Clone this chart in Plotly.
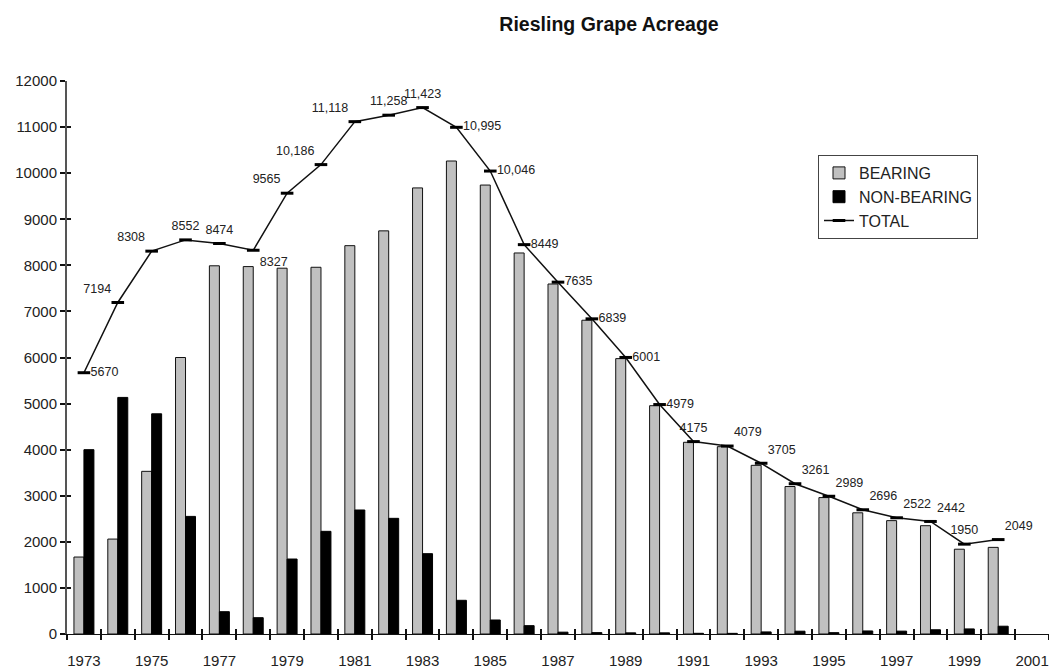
import plotly.graph_objects as go

years = list(range(1973, 2001))
bearing = [1670, 2060, 3530, 6000, 7990, 7973, 7938, 7958, 8427, 8748, 9680, 10264, 9742, 8268,
           7595, 6809, 5976, 4954, 4160, 4065, 3660, 3200, 2960, 2630, 2460, 2350, 1840, 1880]
non_bearing = [4000, 5134, 4778, 2552, 484, 354, 1627, 2228, 2691, 2510, 1743, 731, 304, 181,
               40, 30, 25, 25, 15, 14, 45, 61, 29, 66, 62, 92, 110, 169]
total = [5670, 7194, 8308, 8552, 8474, 8327, 9565, 10186, 11118, 11258, 11423, 10995, 10046, 8449,
         7635, 6839, 6001, 4979, 4175, 4079, 3705, 3261, 2989, 2696, 2522, 2442, 1950, 2049]
total_labels = ["5670", "7194", "8308", "8552", "8474", "8327", "9565", "10,186", "11,118", "11,258",
                "11,423", "10,995", "10,046", "8449", "7635", "6839", "6001", "4979", "4175", "4079",
                "3705", "3261", "2989", "2696", "2522", "2442", "1950", "2049"]
label_pos = ["middle right", "top left", "top left", "top center", "top center", "bottom right",
             "top left", "top left", "top left", "top center", "top center", "middle right",
             "middle right", "middle right", "middle right", "middle right", "middle right",
             "middle right", "top center", "top right", "top right", "top right", "top right",
             "top right", "top right", "top right", "top center", "top right"]
x_tick_years = list(range(1973, 2002, 2))
y_ticks = list(range(0, 12001, 1000))

FONT = "Liberation Sans, Arial, sans-serif"

fig = go.Figure()
fig.add_trace(go.Bar(x=years, y=bearing, name="BEARING", legendgroup="a",
                     marker=dict(color="#c0c0c0", line=dict(color="#111111", width=1))))
fig.add_trace(go.Bar(x=years, y=non_bearing, name="NON-BEARING", legendgroup="b",
                     marker=dict(color="#000000", line=dict(color="#000000", width=1))))
fig.add_trace(go.Scatter(x=years, y=total, name="TOTAL", mode="lines+markers+text", legendgroup="c",
                         line=dict(color="#111111", width=1.5),
                         marker=dict(symbol="line-ew", size=9, line=dict(color="#000000", width=3)),
                         text=total_labels, textposition=label_pos,
                         textfont=dict(size=12.5, color="#222222", family=FONT),
                         cliponaxis=False))
# helper invisible trace for overlay axes
fig.add_trace(go.Scatter(x=[1980], y=[0], xaxis="x2", yaxis="y2", mode="markers",
                         marker=dict(opacity=0), showlegend=False, hoverinfo="skip"))

bounds = [y + 0.5 for y in range(1972, 2002)]

fig.update_layout(
    width=1049, height=670,
    margin=dict(l=67, r=0, t=81, b=36),
    paper_bgcolor="white", plot_bgcolor="white",
    font=dict(family=FONT, size=15, color="#222222"),
    title=dict(text="<b>Riesling Grape Acreage</b>", x=609/1049, xanchor="center",
               y=1 - 24/670, yanchor="middle", font=dict(size=19.5, color="#111111", family=FONT)),
    barmode="group", bargap=0.41, bargroupgap=0,
    showlegend=True,
    legend=dict(x=(818-67)/982, y=(634-155)/553, xanchor="left", yanchor="top",
                bordercolor="#444444", borderwidth=1, bgcolor="white",
                font=dict(size=16, color="#222222", family=FONT),
                itemwidth=30, tracegroupgap=0),
    xaxis=dict(range=[1972.5, 2001.5], tickvals=x_tick_years, ticktext=[str(v) for v in x_tick_years],
               ticks="", showgrid=False, zeroline=False, showline=True, linecolor="#111111", linewidth=1,
               tickfont=dict(size=15), ticklabelstandoff=13, automargin=False,
               minor=dict(tickvals=bounds, ticks="outside", ticklen=5, tickcolor="#111111", tickwidth=2)),
    xaxis2=dict(overlaying="x", anchor="y", range=[1972.5, 2001.5], tickvals=bounds, ticks="inside",
                ticklen=5, tickcolor="#111111", tickwidth=2, showticklabels=False, showgrid=False,
                zeroline=False, showline=False, side="bottom", automargin=False),
    yaxis=dict(range=[0, 12000], tickvals=y_ticks, ticktext=[str(v) for v in y_ticks],
               ticks="outside", ticklen=5, tickwidth=2,
               tickcolor="#111111", showgrid=False, zeroline=False, showline=True,
               linecolor="#555555", linewidth=2, tickfont=dict(size=15), automargin=False),
    yaxis2=dict(overlaying="y", anchor="x", range=[0, 12000], tickvals=y_ticks, ticks="inside",
                ticklen=4, tickwidth=2, tickcolor="#111111", showticklabels=False, showgrid=False,
                zeroline=False, showline=False, side="left", automargin=False),
)

fig.write_html("out.html", config={"displayModeBar": False},
               post_script="document.body.style.margin='0';document.body.style.overflow='hidden';")
